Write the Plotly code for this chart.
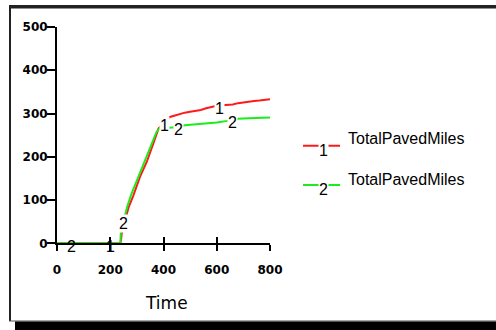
import plotly.graph_objects as go
import numpy as np

# ---- data ----
t1 = [0, 238, 241, 244, 270, 287, 312, 337, 362, 381, 392, 424, 440, 460, 480, 500,
      520, 540, 560, 580, 600, 620, 640, 660, 680, 700, 720, 740, 760, 780, 800]
v1 = [0, 0, 10, 28, 85, 111, 154, 188, 231, 265, 272, 292, 295, 299, 302, 304,
      306, 308, 312, 315, 318, 319, 320, 321, 324, 326, 327, 329, 330, 332, 333]
t2 = [0, 238, 239, 240, 264, 280, 306, 330, 356, 374, 387, 424, 450, 480, 520, 560, 600,
      640, 680, 720, 760, 800]
v2 = [0, 0, 15, 28, 85, 115, 154, 192, 234, 258, 266, 268, 268, 273, 275, 277, 279,
      283, 288, 289, 290, 291]
labels1_x = [200, 405, 612, 808]
labels2_x = [56, 250, 458, 661]
series_names = ["TotalPavedMiles", "TotalPavedMiles"]
x_ticks = [0, 200, 400, 600, 800]
y_ticks = [0, 100, 200, 300, 400, 500]

RED = "#ff1a1a"
GREEN = "#1aee1a"

W, H = 496, 330
L, R, T, B = 57, 270, 27, 243.3

def px(xp):
    return xp / W

def py(yp):
    return 1 - yp / H

fig = go.Figure()
fig.add_trace(go.Scatter(x=t1, y=v1, mode="lines", line=dict(color=RED, width=2),
                         name=series_names[0], showlegend=False, hoverinfo="skip"))
fig.add_trace(go.Scatter(x=t2, y=v2, mode="lines", line=dict(color=GREEN, width=2),
                         name=series_names[1], showlegend=False, hoverinfo="skip"))
# invisible trace to drive the overlay axis (inside tick halves)
fig.add_trace(go.Scatter(x=t1, y=v1, mode="lines", line=dict(width=0), opacity=0,
                         xaxis="x2", showlegend=False, hoverinfo="skip"))

annotations = []
lblfont = dict(family="Liberation Sans, Arial", size=16, color="black")
for txt, xs, ts, vs in (("1", labels1_x, t1, v1), ("2", labels2_x, t2, v2)):
    for xv in xs:
        yv = float(np.interp(xv, ts, vs))
        annotations.append(dict(x=xv, y=yv, xref="x", yref="y", text=txt, showarrow=False,
                                font=lblfont, yshift=-3, borderpad=0,
                                bgcolor="rgba(0,0,0,0)" if yv == 0 else "white"))

# legend
leg_rows = [(series_names[0], "1", RED, 145.7, 138), (series_names[1], "2", GREEN, 185, 179)]
shapes = []
for name, num, col, ly, ty in leg_rows:
    shapes.append(dict(type="line", xref="paper", yref="paper", x0=px(303), x1=px(340),
                       y0=py(ly), y1=py(ly), line=dict(color=col, width=2)))
    annotations.append(dict(xref="paper", yref="paper", x=px(323), y=py(ly + 4.5), text=num,
                            showarrow=False, font=lblfont, bgcolor="white", borderpad=0,
                            xanchor="center", yanchor="middle"))
    annotations.append(dict(xref="paper", yref="paper", x=px(346), y=py(ty), text=name,
                            showarrow=False, xanchor="left", yanchor="middle",
                            font=dict(family="Liberation Sans, Arial", size=16, color="black")))

annotations.append(dict(xref="paper", yref="paper", x=px(166), y=py(303), text="Time",
                        showarrow=False, xanchor="center", yanchor="middle",
                        font=dict(family="DejaVu Sans", size=17, color="black")))

# frame (top border drawn as a bordered annotation box as well as a shape)
shapes.append(dict(type="rect", xref="paper", yref="paper", x0=px(9), x1=px(497),
                   y0=py(5), y1=py(8.5), fillcolor="#222", line=dict(width=0), layer="above"))
shapes.append(dict(type="rect", xref="paper", yref="paper", x0=px(9), x1=px(11),
                   y0=py(5), y1=py(321), fillcolor="#222", line=dict(width=0), layer="above"))
shapes.append(dict(type="rect", xref="paper", yref="paper", x0=px(9), x1=px(497),
                   y0=py(320.5), y1=py(321.5), fillcolor="#555", line=dict(width=0), layer="above"))
shapes.append(dict(type="rect", xref="paper", yref="paper", x0=px(15), x1=px(497),
                   y0=py(321.5), y1=py(331), fillcolor="black", line=dict(width=0), layer="above"))
annotations.append(dict(xref="paper", yref="paper", x=px(9), y=py(5), xanchor="left",
                        yanchor="top", text="", showarrow=False, width=490, height=2,
                        bgcolor="#222", borderpad=0, borderwidth=0))

tickfont = dict(family="DejaVu Sans", size=12, color="black", weight="bold")
fig.update_layout(
    template="none",
    width=W, height=H,
    margin=dict(l=0, r=0, t=0, b=0, pad=0, autoexpand=False),
    paper_bgcolor="white", plot_bgcolor="white",
    xaxis=dict(domain=[L / W, R / W], range=[0, 800], tickvals=x_ticks, ticks="outside",
               ticklen=6, tickwidth=2, tickcolor="black", showline=True, linecolor="black",
               linewidth=2, showgrid=False, zeroline=False, tickfont=tickfont, fixedrange=True,
               automargin=False, ticklabelstandoff=8),
    xaxis2=dict(domain=[L / W, R / W], range=[0, 800], tickvals=x_ticks, ticks="inside",
                ticklen=6, tickwidth=2, tickcolor="black", overlaying="x", anchor="y",
                side="bottom", showticklabels=False, showline=False, showgrid=False,
                zeroline=False, automargin=False),
    yaxis=dict(domain=[1 - B / H, 1 - T / H], range=[0, 500], tickvals=y_ticks,
               ticks="outside", ticklen=8, tickwidth=2, tickcolor="black", showline=True,
               linecolor="black", linewidth=2, showgrid=False, zeroline=False,
               tickfont=tickfont, fixedrange=True, automargin=False, ticklabelstandoff=-3),
    annotations=annotations, shapes=shapes,
)
fig.write_html("out.html", config={"displayModeBar": False},
               post_script="document.body.style.margin='0';document.body.style.overflow='hidden';")
